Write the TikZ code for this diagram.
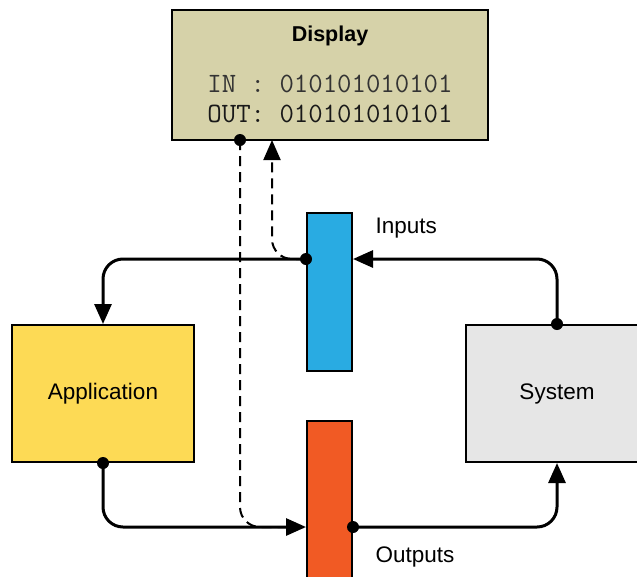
\documentclass[tikz,border=0pt]{standalone}
\usepackage{fontspec}
\setmainfont{Liberation Sans}
\usetikzlibrary{arrows.meta}

\definecolor{dispcol}{HTML}{D6D2A9}
\definecolor{incol}{HTML}{29ABE2}
\definecolor{outcol}{HTML}{F15A24}
\definecolor{appcol}{HTML}{FDDA55}
\definecolor{syscol}{HTML}{E6E6E6}

\tikzset{
  box/.style={draw, line width=2pt, inner sep=0pt, minimum width=182pt, minimum height=137pt, font=\fontsize{22.5}{27}\selectfont},
  bar/.style={draw, line width=2pt, inner sep=0pt, minimum width=45pt, minimum height=158pt},
  wire/.style={line width=3pt, rounded corners=20pt},
  link/.style={line width=2pt, dash pattern=on 10pt off 6pt, rounded corners=20pt},
  tip/.style={-{Triangle[length=20pt,width=17pt]}},
  lbl/.style={anchor=west, font=\fontsize{22.5}{27}\selectfont}
}

\begin{document}
\begin{tikzpicture}[x=1pt,y=-1pt]
        \clip (0,0) rectangle (637,576);
        % Display
        \node[draw, line width=2pt, fill=dispcol, minimum width=316pt, minimum height=130pt] (disp) at (330,75) {};
        \node[font=\bfseries\fontsize{21.5}{26}\selectfont] (title) at (330,36) {Display};
        \node[font=\ttfamily\fontsize{28}{32}\selectfont, text=black!80] (inline) at (330,84) {IN~:~010101010101};
        \node[font=\ttfamily\fontsize{28}{32}\selectfont, text=black!90] (outline) at (330,114) {OUT:~010101010101};
        % Blocs
        \node[box, fill=appcol] (app) at (103,393.5) {Application};
        \node[box, fill=syscol] (sys) at (557,393.5) {System};
        \node[bar, fill=incol] (inbar) at (329.5,292) {};
        \node[bar, fill=outcol] (outbar) at (329.5,500) {};
        % Points de connexion
        \coordinate (inL) at (inbar.west |- 0,259);
        \coordinate (inR) at (inbar.east |- 0,259);
        \coordinate (outL) at (outbar.west |- 0,527);
        \coordinate (outR) at (outbar.east |- 0,527);
        \coordinate (dA) at (240,140);
        \coordinate (dB) at (272,140);
        % Liens pointilles
        \draw[link] (dA) |- (outL);
        \draw[link, tip] (inL) -| (dB);
        % Liens
        \draw[wire, tip] (sys.north) |- (inR);
        \draw[wire, tip] (inL) -| (app.north);
        \draw[wire, tip] (app.south) |- (outL);
        \draw[wire, tip] (outR) -| (sys.south);
        % Points
        \foreach \p in {sys.north, inL, app.south, outR, dA}
          \fill (\p) circle (6pt);
        % Etiquettes
        \node[lbl] (inlbl) at (372,228) {Inputs};
        \node[lbl] (outlbl) at (372,557) {Outputs};
    \end{tikzpicture}
\end{document}
